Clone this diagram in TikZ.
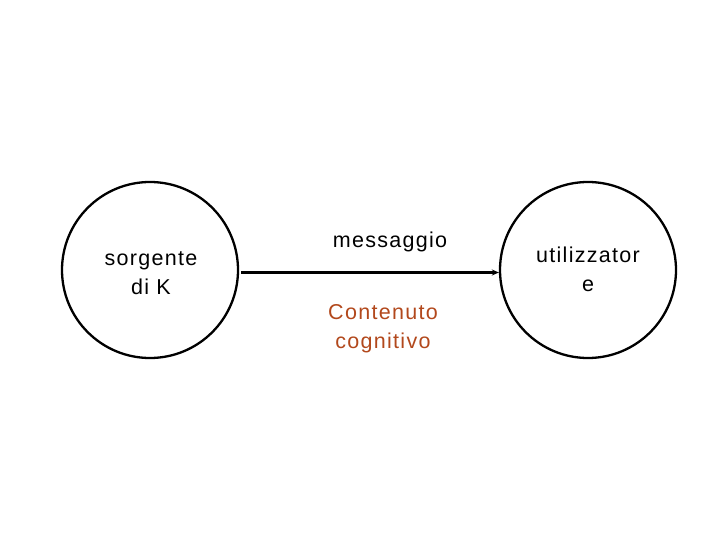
\documentclass[tikz,border=0pt]{standalone}
\usepackage{fontspec}
\setmainfont{Liberation Sans}[LetterSpace=6]
\usetikzlibrary{arrows.meta}
\definecolor{brownred}{RGB}{178,72,28}
\begin{document}
\begin{tikzpicture}[x=1bp,y=-1bp,
  circ/.style={draw,line width=2.3bp,circle,minimum size=176bp,inner sep=0pt},
  lbl/.style={font=\fontsize{21.5bp}{29bp}\selectfont,align=center,inner sep=0pt}]
\useasboundingbox (0,0) rectangle (720,540);
\node[circ] (src) at (150,270) {};
\node[circ] (dst) at (588,270) {};
\node[lbl] (t1) at (151,273) {sorgente\\di K};
\node[lbl] (t2) at (588,269) {utilizzator\\e};
\node[lbl] (msg) at (390,242) {messaggio};
\node[lbl,text=brownred] (cc) at (383,329) {Contenuto\\cognitivo};
\draw[line width=2.5bp,-{Stealth[length=7bp,width=6bp]}] (src.east) ++(2,2.5) coordinate (a) -- (a -| dst.west);
\end{tikzpicture}
\end{document}
